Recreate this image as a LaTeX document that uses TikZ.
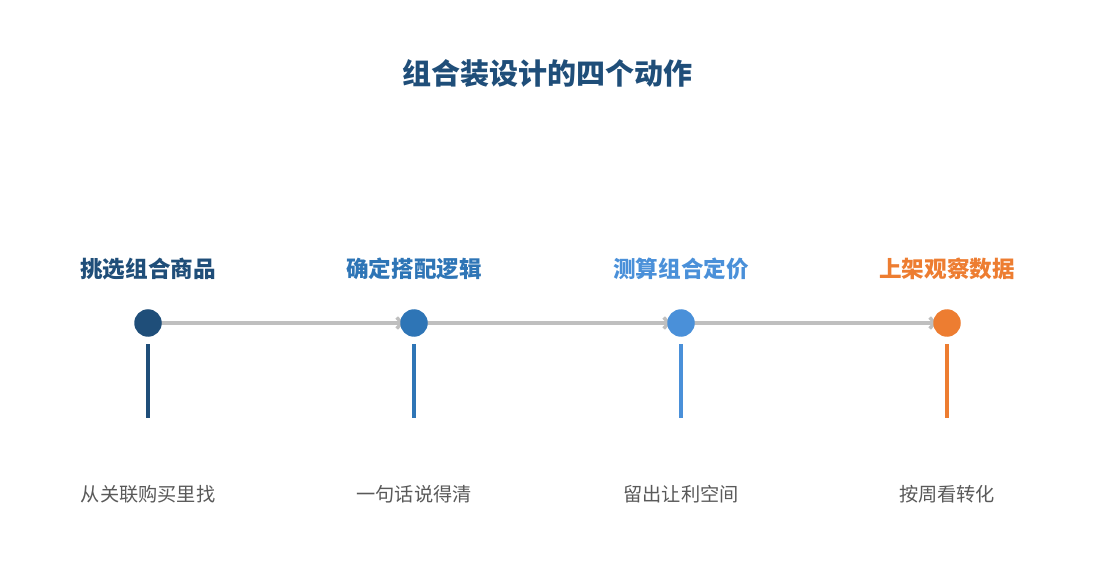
\documentclass[tikz,border=0pt]{standalone}
\usepackage{fontspec}
\setmainfont{Noto Sans CJK SC}
\usetikzlibrary{arrows.meta,backgrounds}

\definecolor{darkblue}{HTML}{1F4E79}
\definecolor{midblue}{HTML}{2E75B6}
\definecolor{lightblue}{HTML}{4A90D9}
\definecolor{orange}{HTML}{ED7D31}
\definecolor{linegray}{HTML}{BFBFBF}
\definecolor{textgray}{HTML}{595959}

\begin{document}
\begin{tikzpicture}[x=1pt, y=-1pt]
  \tikzstyle{dot}   = [circle, inner sep=0pt, minimum size=27.5pt];
  \tikzstyle{step_title} = [font=\fontsize{22.6}{26}\selectfont\bfseries];
  \tikzstyle{step_note}  = [font=\fontsize{19.2}{23}\selectfont, text=textgray];
  \tikzstyle{stem}  = [line width=3.5pt];
  \tikzstyle{flow}  = [draw=linegray, line width=3.5pt, -{Straight Barb[length=5pt, width=11pt]}];

  \useasboundingbox (0, 0) rectangle (1095, 585);

  \node[font=\fontsize{29}{34}\selectfont\bfseries, text=darkblue] (title) at (547, 74) {组合装设计的四个动作};

  \node[dot, fill=darkblue]  (c1) at (148, 323) {};
  \node[dot, fill=midblue]   (c2) at (414, 323) {};
  \node[dot, fill=lightblue] (c3) at (681, 323) {};
  \node[dot, fill=orange]    (c4) at (947, 323) {};

  \node[step_title, text=darkblue]  (t1) at (148, 269) {挑选组合商品};
  \node[step_title, text=midblue]   (t2) at (414, 269) {确定搭配逻辑};
  \node[step_title, text=lightblue] (t3) at (681, 269) {测算组合定价};
  \node[step_title, text=orange]    (t4) at (947, 269) {上架观察数据};

  \node[step_note] (n1) at (148, 494) {从关联购买里找};
  \node[step_note] (n2) at (414, 494) {一句话说得清};
  \node[step_note] (n3) at (681, 494) {留出让利空间};
  \node[step_note] (n4) at (947, 494) {按周看转化};

  \begin{scope}[on background layer]
    \draw[flow] (c1.center) -- ([xshift=4pt]c2.west);
    \draw[flow] (c2.center) -- ([xshift=4pt]c3.west);
    \draw[flow] (c3.center) -- ([xshift=4pt]c4.west);
  \end{scope}

  \draw[stem, darkblue]  (c1.south) ++(0, 7.5) -- ++(0, 74);
  \draw[stem, midblue]   (c2.south) ++(0, 7.5) -- ++(0, 74);
  \draw[stem, lightblue] (c3.south) ++(0, 7.5) -- ++(0, 74);
  \draw[stem, orange]    (c4.south) ++(0, 7.5) -- ++(0, 74);
\end{tikzpicture}
\end{document}
